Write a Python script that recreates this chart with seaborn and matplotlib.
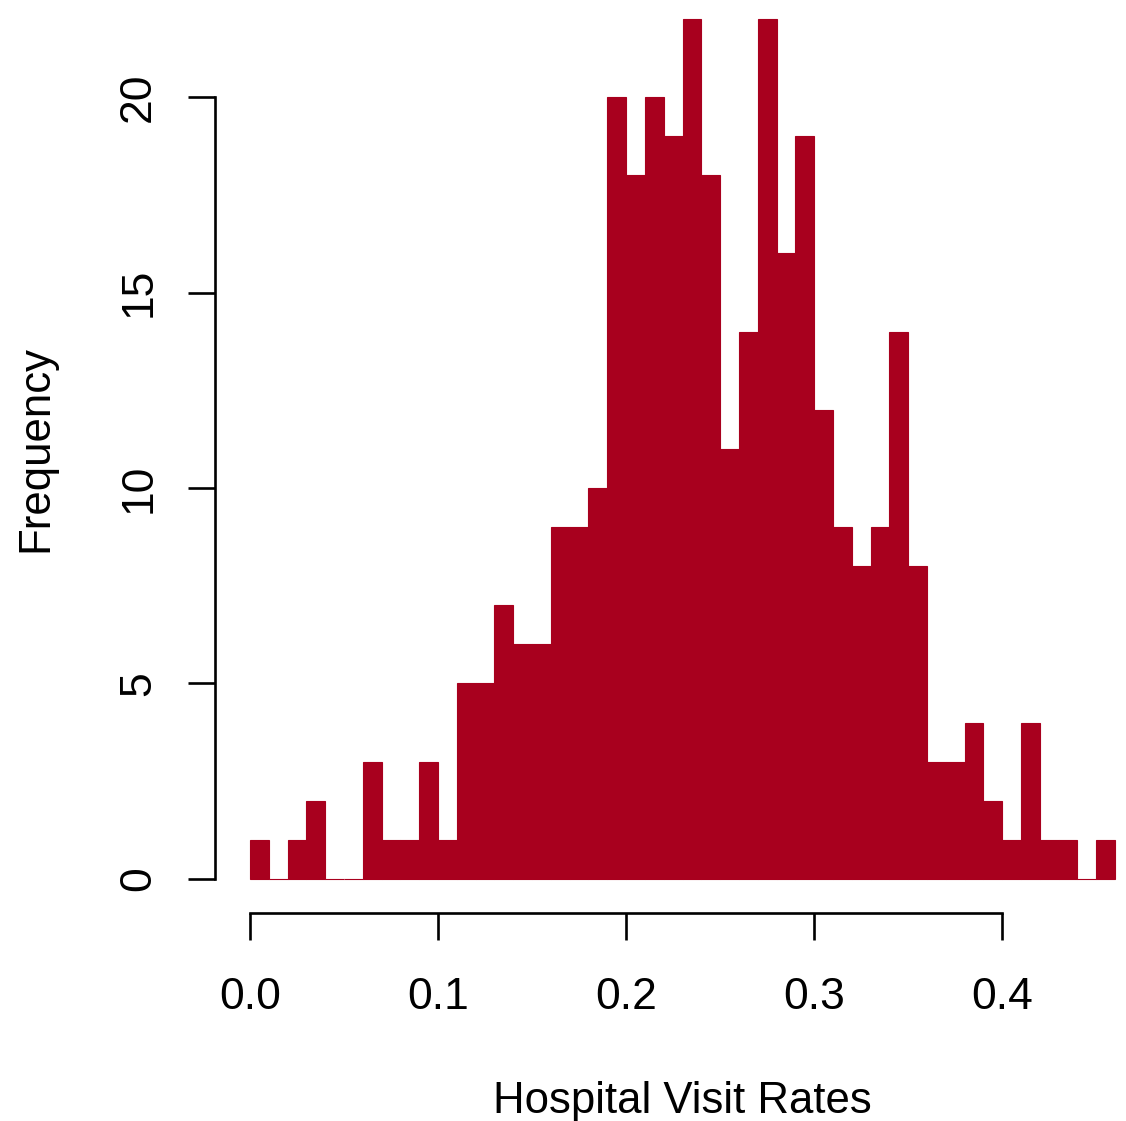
import numpy as np
import pandas as pd
import matplotlib
matplotlib.use("Agg")
import matplotlib.pyplot as plt
import seaborn as sns

# histogram counts per bin of width 0.01, starting at 0.00
bin_start = 0.0
bin_width = 0.01
counts = [1, 0, 1, 2, 0, 0, 3, 1, 1, 3,
          1, 5, 5, 7, 6, 6, 9, 9, 10, 20,
          18, 20, 19, 22, 18, 11, 14, 22, 16, 19,
          12, 9, 8, 9, 14, 8, 3, 3, 4, 2,
          1, 4, 1, 1, 0, 1]
x_ticks = [0.0, 0.1, 0.2, 0.3, 0.4]
x_tick_labels = ["0.0", "0.1", "0.2", "0.3", "0.4"]
y_ticks = [0, 5, 10, 15, 20]

edges = (bin_start + bin_width * np.arange(len(counts) + 1)).tolist()
mids = [(a + b) / 2 for a, b in zip(edges[:-1], edges[1:])]
df = pd.DataFrame({"rate": mids, "n": counts})

sns.set_style("ticks")
plt.rcParams["font.family"] = ["Liberation Sans", "DejaVu Sans"]
plt.rcParams["text.color"] = "black"
plt.rcParams["axes.labelcolor"] = "black"

bar_col = "#A8001E"
fig = plt.figure(figsize=(11.26, 11.21), dpi=100)
ax = fig.add_axes([215.4 / 1126, 0.1852, 934.2 / 1126, 0.8287])

sns.histplot(data=df, x="rate", weights="n", bins=edges, color=bar_col,
             alpha=1, edgecolor=bar_col, linewidth=0.8, ax=ax)

ax.set_xlim(-0.0184, 0.4784)
ax.set_ylim(-0.88, 22.88)
ax.set_xticks(x_ticks)
ax.set_xticklabels(x_tick_labels)
ax.set_yticks(y_ticks)

sns.despine(ax=ax)
ax.spines["left"].set_bounds(0, 20)
ax.spines["bottom"].set_bounds(0, 0.4)
for s in ("left", "bottom"):
    ax.spines[s].set_linewidth(1.9)
    ax.spines[s].set_color("black")

ax.tick_params(axis="both", length=19.5, width=1.9, color="black",
               labelsize=32, labelcolor="black", pad=21)
ax.tick_params(axis="x", pad=26)
ax.tick_params(axis="y", labelrotation=90)
for lab in ax.get_yticklabels():
    lab.set_va("center")

ax.set_xlabel("Hospital Visit Rates", fontsize=31.5, color="black")
ax.set_ylabel("Frequency", fontsize=31.5, color="black")
ax.xaxis.set_label_coords(0.5, -0.18)
ax.yaxis.set_label_coords(-0.1706, 0.5)

fig.savefig("out.png", dpi=100)
